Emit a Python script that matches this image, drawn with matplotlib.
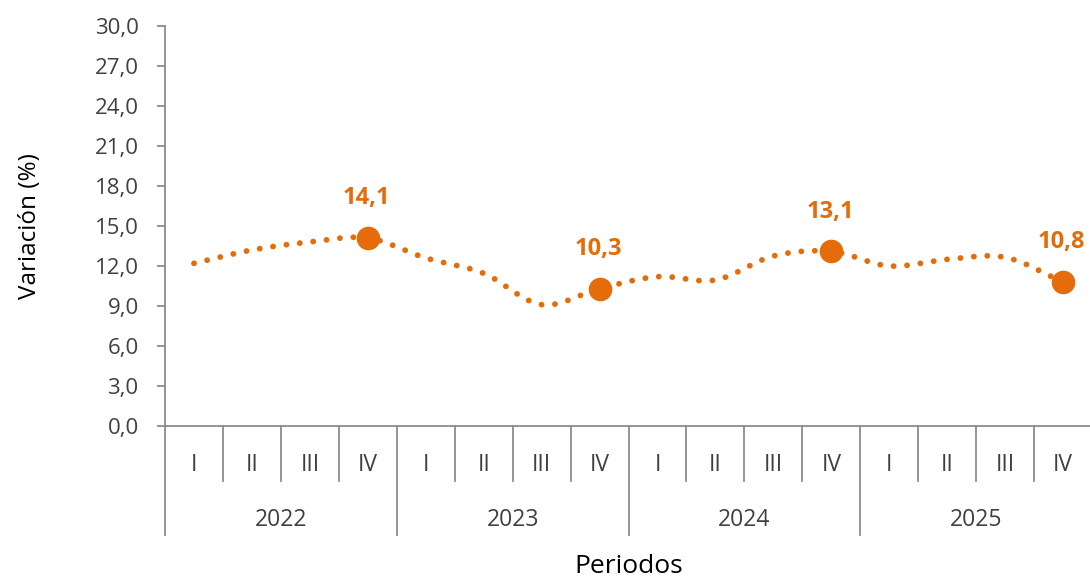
import numpy as np
import matplotlib
matplotlib.use("Agg")
import matplotlib.pyplot as plt
from matplotlib.transforms import blended_transform_factory

# data
years = ["2022", "2023", "2024", "2025"]
quarters = ["I", "II", "III", "IV"]
values = [12.2, 13.2, 13.8, 14.1,
          12.6, 11.45, 9.1, 10.3,
          11.2, 10.95, 12.75, 13.1,
          12.0, 12.5, 12.65, 10.8]
yticks = np.arange(0, 31, 3)

orange = "#E46C0A"
grey = "#8C8C8C"
txt = "#404040"
plt.rcParams['font.family'] = ['Open Sans', 'DejaVu Sans']


def smooth(x, y, n=24):
    # Catmull-Rom style smoothing like the spreadsheet "smoothed line"
    x = np.asarray(x, float)
    y = np.asarray(y, float)
    px = np.concatenate([[2 * x[0] - x[1]], x, [2 * x[-1] - x[-2]]])
    py = np.concatenate([[2 * y[0] - y[1]], y, [2 * y[-1] - y[-2]]])
    xs, ys = [], []
    t = np.linspace(0, 1, n, endpoint=False)
    for i in range(1, len(px) - 2):
        for p, out in ((px, xs), (py, ys)):
            p0, p1, p2, p3 = p[i - 1], p[i], p[i + 1], p[i + 2]
            out.extend(0.5 * ((2 * p1) + (-p0 + p2) * t
                              + (2 * p0 - 5 * p1 + 4 * p2 - p3) * t ** 2
                              + (-p0 + 3 * p1 - 3 * p2 + p3) * t ** 3))
    xs.append(x[-1])
    ys.append(y[-1])
    return np.array(xs), np.array(ys)


fig = plt.figure(figsize=(10.9, 5.78), dpi=100)
ax = fig.add_axes([0.1514, 0.263, 0.8505, 0.692])

x = np.arange(len(values))
sx, sy = smooth(x, values)
ax.plot(sx, sy, color=orange, lw=4.2, linestyle=(0, (0.01, 2.3)),
        dash_capstyle='round', zorder=2)

# markers + labels on the fourth quarter of each year
for i in range(3, len(values), 4):
    ax.plot(x[i], values[i], 'o', ms=16, color=orange, zorder=3)
    ax.annotate(f"{values[i]:.1f}".replace('.', ','), (x[i], values[i]),
                xytext=(-1, 20), textcoords='offset points', ha='center',
                va='bottom', fontsize=17, fontweight='bold', color=orange)

ax.set_xlim(-0.5, len(values) - 0.5)
ax.set_ylim(0, 30)
ax.set_yticks(yticks)
ax.set_yticklabels([f"{v:.1f}".replace('.', ',') for v in yticks])
ax.tick_params(axis='y', length=6, width=1.3, color=grey, labelsize=16,
               labelcolor=txt, pad=13)
ax.set_xticks([])

for s in ['top', 'right']:
    ax.spines[s].set_visible(False)
for s in ['left', 'bottom']:
    ax.spines[s].set_color(grey)
    ax.spines[s].set_linewidth(1.3)

# multi level category axis
tr = blended_transform_factory(ax.transData, ax.transAxes)
for k in range(len(values) + 1):
    xb = k - 0.5
    low = -0.2725 if k % 4 == 0 else -0.1375
    ax.plot([xb, xb], [0, low], color=grey, lw=1.3, transform=tr,
            clip_on=False)
for i in range(len(values)):
    ax.text(x[i], -0.0975, quarters[i % 4], transform=tr, ha='center',
            va='center', fontsize=16.5, color=txt)
for j, yr in enumerate(years):
    ax.text(4 * j + 1.5, -0.235, yr, transform=tr, ha='center',
            va='center', fontsize=16.5, color=txt)

ax.text(0.5, -0.3525, "Periodos", transform=ax.transAxes, ha='center',
        va='center', fontsize=19, color='black')
fig.text(30 / 1090, 1 - 226 / 578, "Variación (%)", rotation=90,
         ha='center', va='center', fontsize=17.5, color='black')

fig.savefig("out.png", dpi=100)
